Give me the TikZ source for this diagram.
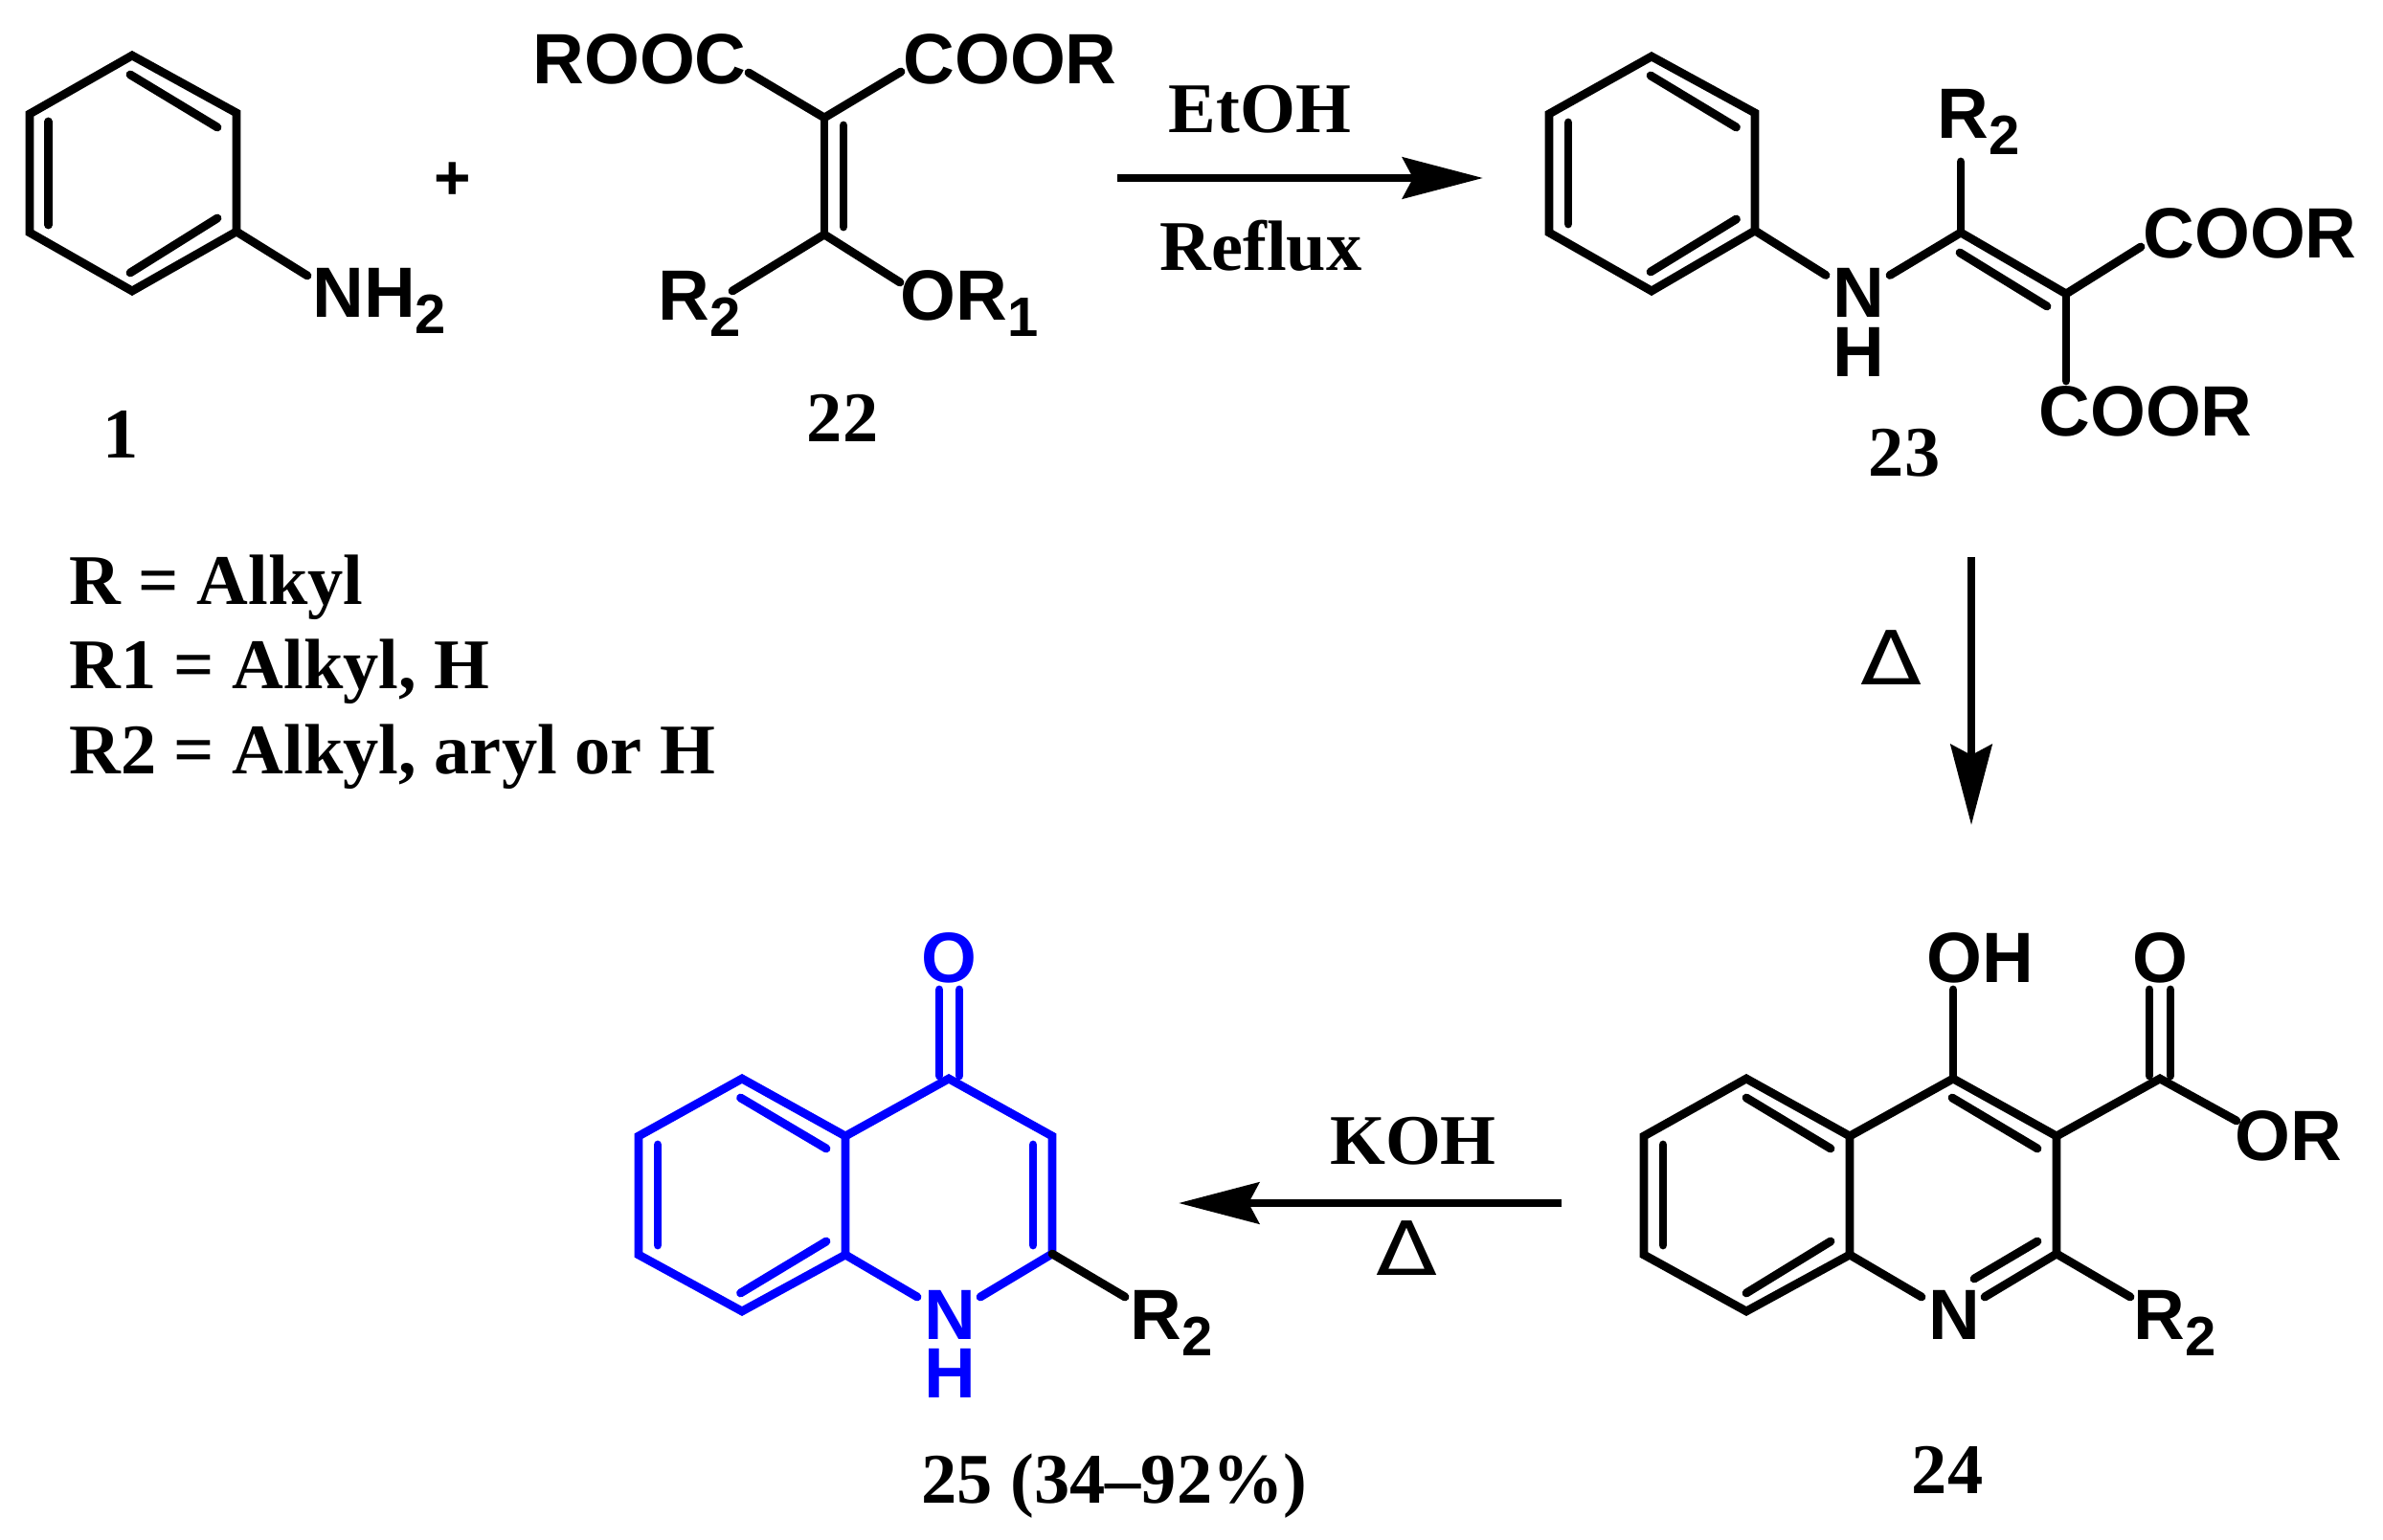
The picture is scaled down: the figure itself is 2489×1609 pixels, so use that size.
\documentclass[tikz,border=0pt]{standalone}
\usepackage{fontspec}
\setmainfont{Liberation Serif}
\newfontfamily\sansface{Liberation Sans}
\newfontfamily\heatface{DejaVu Sans}
\usetikzlibrary{arrows.meta}
\definecolor{chemblue}{HTML}{0000FF}
\newcommand\atomfont{\fontsize{37.2}{40}\selectfont\sansface\bfseries}
\newcommand\capfont{\fontsize{37.2}{40}\selectfont\rmfamily\bfseries}
\newcommand\sbs[1]{\raisebox{-8.5pt}{\fontsize{29}{29}\selectfont #1}}
\newcommand\heatsign{\scalebox{1.2}[1]{Δ}}
\tikzset{
  atomlabel/.style={anchor=base west,inner sep=0pt,font=\atomfont},
  midatom/.style={anchor=base,inner sep=0pt,font=\atomfont},
  pluslabel/.style={anchor=base,inner sep=0pt,font=\fontsize{33}{36}\selectfont\sansface\bfseries},
  captext/.style={anchor=base,inner sep=0pt,font=\capfont},
  legendtext/.style={anchor=base west,inner sep=0pt,font=\capfont},
  heat/.style={anchor=base,inner sep=0pt,font=\fontsize{39}{40}\selectfont\heatface},
  ring/.style={line width=4.4pt,line join=miter,miter limit=10},
  bond/.style={line width=4.4pt,line cap=round},
  rxn/.style={line width=4.2pt,-{Stealth[length=42pt,width=21.5pt,inset=5.5pt]}},
  bluebond/.style={bond,chemblue},
  bluering/.style={ring,chemblue}
}
\begin{document}
\begin{tikzpicture}[x=0.5pt,y=-0.5pt]
\useasboundingbox (0,0) rectangle (2489,1609);
% --- compound 1
\coordinate (a1) at (138,58); \coordinate (a2) at (247,118); \coordinate (a3) at (247,242);
\coordinate (a4) at (138,304); \coordinate (a5) at (31,243); \coordinate (a6) at (31,119);
\coordinate (a1i) at (136,78); \coordinate (a2i) at (227,133); \coordinate (a3i) at (227,228);
\coordinate (a4i) at (136,285); \coordinate (a5i) at (50.5,235); \coordinate (a6i) at (50.5,127);
\coordinate (aN) at (321,288);
\draw[ring] (a1)--(a2)--(a3)--(a4)--(a5)--(a6)--cycle;
\draw[bond] (a1i)--(a2i); \draw[bond] (a3i)--(a4i); \draw[bond] (a5i)--(a6i);
\draw[bond] (a3)--(aN);
\node[atomlabel] (nh2) at (326,332) {NH\sbs{2}};
\node[pluslabel] (plus) at (473,209) {+};
\node[captext] (c1) at (126,479) {1};
% --- compound 22
\coordinate (b1) at (861,123); \coordinate (b2) at (861,245);
\coordinate (b1i) at (881,131); \coordinate (b2i) at (881,237);
\coordinate (bTL) at (782,76); \coordinate (bTR) at (941,75);
\coordinate (bBL) at (765,304); \coordinate (bBR) at (940,295);
\draw[bond] (bTL)--(b1)--(bTR); \draw[bond] (b1)--(b2);
\draw[bond] (bBL)--(b2)--(bBR); \draw[bond] (b1i)--(b2i);
\node[atomlabel] (rooc) at (556,88) {ROOC};
\node[atomlabel] (coor1) at (943,88) {COOR};
\node[atomlabel] (r2a) at (687,335) {R\sbs{2}};
\node[atomlabel] (or1) at (940,335) {OR\sbs{1}};
\node[captext] (c22) at (880,462) {22};
% --- arrow 1
\coordinate (ar1s) at (1167,186); \coordinate (ar1e) at (1549,186);
\draw[rxn] (ar1s)--(ar1e);
\node[captext] (etoh) at (1316,139) {EtOH};
\node[captext] (reflux) at (1317,283) {Reflux};
% --- compound 23
\coordinate (d1) at (1725,59); \coordinate (d2) at (1833,118); \coordinate (d3) at (1833,241);
\coordinate (d4) at (1725,304); \coordinate (d5) at (1618,243); \coordinate (d6) at (1618,119);
\coordinate (d1i) at (1724,79); \coordinate (d2i) at (1813.5,133); \coordinate (d3i) at (1813.5,229);
\coordinate (d4i) at (1724,284); \coordinate (d5i) at (1638,234); \coordinate (d6i) at (1638,128);
\coordinate (dNl) at (1907,287.5); \coordinate (dNr) at (1974,287.5);
\coordinate (dC1) at (2048,243); \coordinate (dC2) at (2158,307);
\coordinate (dC1i) at (2047,264); \coordinate (dC2i) at (2138,320);
\coordinate (dR) at (2048,169); \coordinate (dE1) at (2236,258); \coordinate (dE2) at (2158,398);
\draw[ring] (d1)--(d2)--(d3)--(d4)--(d5)--(d6)--cycle;
\draw[bond] (d1i)--(d2i); \draw[bond] (d3i)--(d4i); \draw[bond] (d5i)--(d6i);
\draw[bond] (d3)--(dNl); \draw[bond] (dNr)--(dC1)--(dC2);
\draw[bond] (dC1i)--(dC2i); \draw[bond] (dC1)--(dR);
\draw[bond] (dC2)--(dE1); \draw[bond] (dC2)--(dE2);
\node[atomlabel] (n23) at (1914,332) {N};
\node[atomlabel] (h23) at (1914,394) {H};
\node[atomlabel] (r2b) at (2023,145) {R\sbs{2}};
\node[atomlabel] (coor2) at (2238,270) {COOR};
\node[atomlabel] (coor3) at (2129,456) {COOR};
\node[captext] (c23) at (1989,498) {23};
% --- legend
\node[legendtext] (leg1) at (72,632) {R = Alkyl};
\node[legendtext] (leg2) at (72,719) {R1 = Alkyl, H};
\node[legendtext] (leg3) at (72,808) {R2 = Alkyl, aryl or H};
% --- arrow 2
\coordinate (ar2s) at (2059,582); \coordinate (ar2e) at (2059,862);
\draw[rxn] (ar2s)--(ar2e);
\node[heat] (delta1) at (1975,715) {\heatsign};
% --- compound 24
\coordinate (e1) at (1824,1127); \coordinate (e2) at (1932,1187); \coordinate (e3) at (1932,1311);
\coordinate (e4) at (1824,1370); \coordinate (e5) at (1717,1311); \coordinate (e6) at (1717,1187);
\coordinate (e1i) at (1824,1147); \coordinate (e2i) at (1912,1200); \coordinate (e3i) at (1912,1297);
\coordinate (e4i) at (1824,1351); \coordinate (e5i) at (1737,1301); \coordinate (e6i) at (1737,1196);
\coordinate (eCO) at (2040,1127); \coordinate (eC3) at (2148,1187); \coordinate (eC2) at (2148,1310);
\coordinate (eCOi) at (2039,1147); \coordinate (eC3i) at (2128,1200);
\coordinate (eC2i) at (2128,1297); \coordinate (eNi) at (2062,1336);
\coordinate (eNr) at (2073,1355); \coordinate (eNl) at (2007,1355);
\coordinate (eOH) at (2040,1034); \coordinate (eC) at (2256,1127);
\coordinate (eCl) at (2245,1124); \coordinate (eCr) at (2267,1124);
\coordinate (eOl) at (2245,1034); \coordinate (eOr) at (2267,1034);
\coordinate (eOR) at (2336,1171); \coordinate (eR) at (2225,1355);
\draw[ring] (e1)--(e2)--(e3)--(e4)--(e5)--(e6)--cycle;
\draw[bond] (e1i)--(e2i); \draw[bond] (e3i)--(e4i); \draw[bond] (e5i)--(e6i);
\draw[bond] (e2)--(eCO)--(eC3)--(eC2)--(eNr);
\draw[bond] (e3)--(eNl);
\draw[bond] (eCOi)--(eC3i); \draw[bond] (eC2i)--(eNi);
\draw[bond] (eCO)--(eOH);
\draw[bond] (eC3)--(eC)--(eOR);
\draw[bond] (eCl)--(eOl); \draw[bond] (eCr)--(eOr);
\draw[bond] (eC2)--(eR);
\node[atomlabel] (n24) at (2014,1399) {N};
\node[atomlabel] (oh) at (2012,1026) {OH};
\node[midatom] (o24) at (2256,1026) {O};
\node[atomlabel] (or) at (2334.5,1212.5) {OR};
\node[atomlabel] (r2c) at (2228,1399) {R\sbs{2}};
\node[captext] (c24) at (2034,1560) {24};
% --- arrow 3
\coordinate (ar3s) at (1631,1257); \coordinate (ar3e) at (1231,1257);
\draw[rxn] (ar3s)--(ar3e);
\node[captext] (koh) at (1476,1216) {KOH};
\node[heat] (delta2) at (1469,1332) {\heatsign};
% --- compound 25
\coordinate (f1) at (775,1127); \coordinate (f2) at (883,1187); \coordinate (f3) at (883,1311);
\coordinate (f4) at (775,1370); \coordinate (f5) at (667,1311); \coordinate (f6) at (667,1187);
\coordinate (f1i) at (773.5,1147); \coordinate (f2i) at (863,1200); \coordinate (f3i) at (863,1297);
\coordinate (f4i) at (773.5,1351); \coordinate (f5i) at (687,1301); \coordinate (f6i) at (687,1196);
\coordinate (fCO) at (991,1127); \coordinate (fC3) at (1099,1187); \coordinate (fC2) at (1099,1310);
\coordinate (fC3i) at (1079,1196); \coordinate (fC2i) at (1079,1301);
\coordinate (fNl) at (958,1355); \coordinate (fNr) at (1024,1355);
\coordinate (fCl) at (981,1124); \coordinate (fCr) at (1002,1124);
\coordinate (fOl) at (981,1034); \coordinate (fOr) at (1002,1034);
\coordinate (fR) at (1175,1355);
\draw[bluering] (f1)--(f2)--(f3)--(f4)--(f5)--(f6)--cycle;
\draw[bluebond] (f1i)--(f2i); \draw[bluebond] (f3i)--(f4i); \draw[bluebond] (f5i)--(f6i);
\draw[bluebond] (f2)--(fCO)--(fC3)--(fC2)--(fNr);
\draw[bluebond] (f3)--(fNl);
\draw[bluebond] (fC3i)--(fC2i);
\draw[bluebond] (fCl)--(fOl); \draw[bluebond] (fCr)--(fOr);
\draw[bond] (fC2)--(fR);
\node[midatom,text=chemblue] (o25) at (991,1026) {O};
\node[atomlabel,text=chemblue] (n25) at (965,1399) {N};
\node[atomlabel,text=chemblue] (h25) at (965,1460) {H};
\node[atomlabel] (r2d) at (1180,1399) {R\sbs{2}};
\node[captext] (c25) at (1164,1570) {25 (34–92\%)};
\end{tikzpicture}
\end{document}
